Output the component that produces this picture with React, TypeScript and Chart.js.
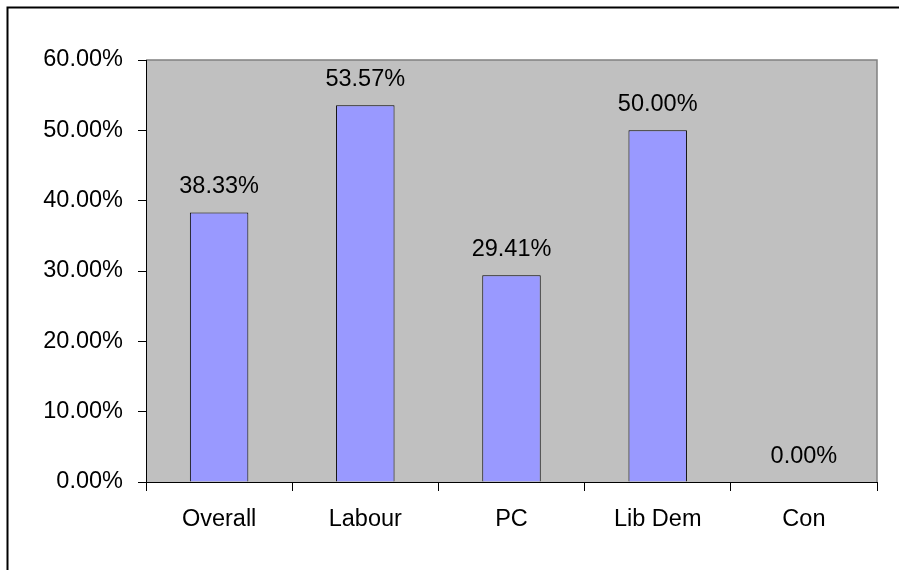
import React, { useEffect, useRef } from "react";
import { Chart, registerables } from "chart.js";

Chart.register(...registerables);

const categories = ["Overall", "Labour", "PC", "Lib Dem", "Con"];
const values = [38.33, 53.57, 29.41, 50.0, 0.0];
const yTicks = [0, 10, 20, 30, 40, 50, 60];

const FONT = '"Liberation Sans", Arial, sans-serif';
const FS = 23.5;

const framePlugin = {
  id: "frame",
  beforeDraw(chart: any) {
    const { ctx, chartArea: a } = chart;
    ctx.save();
    ctx.fillStyle = "#ffffff";
    ctx.fillRect(0, 0, chart.width, chart.height);
    ctx.strokeStyle = "#000000";
    ctx.lineWidth = 2;
    ctx.strokeRect(7.5, 7.5, chart.width + 20, chart.height + 20);
    ctx.fillStyle = "#c0c0c0";
    ctx.fillRect(a.left, a.top, a.right - a.left, a.bottom - a.top);
    ctx.strokeStyle = "#808080";
    ctx.lineWidth = 1.5;
    ctx.beginPath();
    ctx.moveTo(a.left, a.top);
    ctx.lineTo(a.right, a.top);
    ctx.lineTo(a.right, a.bottom);
    ctx.stroke();
    ctx.restore();
  },
};

const labelPlugin = {
  id: "barLabels",
  afterDatasetsDraw(chart: any) {
    const { ctx } = chart;
    const meta = chart.getDatasetMeta(0);
    ctx.save();
    ctx.font = `${FS}px ${FONT}`;
    ctx.fillStyle = "#000000";
    ctx.textAlign = "center";
    ctx.textBaseline = "alphabetic";
    meta.data.forEach((bar: any, i: number) => {
      const v = chart.data.datasets[0].data[i] as number;
      ctx.fillText(v.toFixed(2) + "%", bar.x, bar.y - 19);
    });
    ctx.restore();
  },
};

export default function App() {
  const ref = useRef<HTMLCanvasElement>(null);
  useEffect(() => {
    if (!ref.current) return;
    const chart = new Chart(ref.current, {
      type: "bar",
      data: {
        labels: categories,
        datasets: [
          {
            data: values,
            backgroundColor: "#9999ff",
            borderColor: "#000000",
            borderWidth: 1,
            barPercentage: 0.8,
            categoryPercentage: 0.5,
          },
        ],
      },
      options: {
        animation: false,
        responsive: false,
        devicePixelRatio: 1,
        layout: { padding: { left: 0, top: 60, right: 22, bottom: 0 } },
        plugins: { legend: { display: false }, tooltip: { enabled: false } },
        scales: {
          x: {
            afterFit: (s: any) => {
              s.height = 88;
            },
            grid: {
              drawOnChartArea: false,
              drawTicks: true,
              tickLength: 9,
              color: "#000000",
              lineWidth: 1,
            },
            border: { display: true, color: "#000000", width: 1 },
            ticks: {
              color: "#000000",
              font: { family: FONT, size: FS },
              padding: 14,
              maxRotation: 0,
            },
          },
          y: {
            min: yTicks[0],
            max: yTicks[yTicks.length - 1],
            afterFit: (s: any) => {
              s.width = 146;
            },
            afterBuildTicks: (s: any) => {
              s.ticks = yTicks.map((v) => ({ value: v }));
            },
            grid: {
              drawOnChartArea: false,
              drawTicks: true,
              tickLength: 8,
              color: "#000000",
              lineWidth: 1,
            },
            border: { display: true, color: "#000000", width: 1 },
            ticks: {
              color: "#000000",
              font: { family: FONT, size: FS },
              padding: 15,
              callback: (v: any) => Number(v).toFixed(2) + "%",
            },
          },
        },
      },
      plugins: [framePlugin, labelPlugin],
    });
    return () => chart.destroy();
  }, []);
  return (
    <div style={{ position: "fixed", left: 0, top: 0, width: 899, height: 570 }}>
      <canvas ref={ref} width={899} height={570} style={{ display: "block" }} />
    </div>
  );
}
